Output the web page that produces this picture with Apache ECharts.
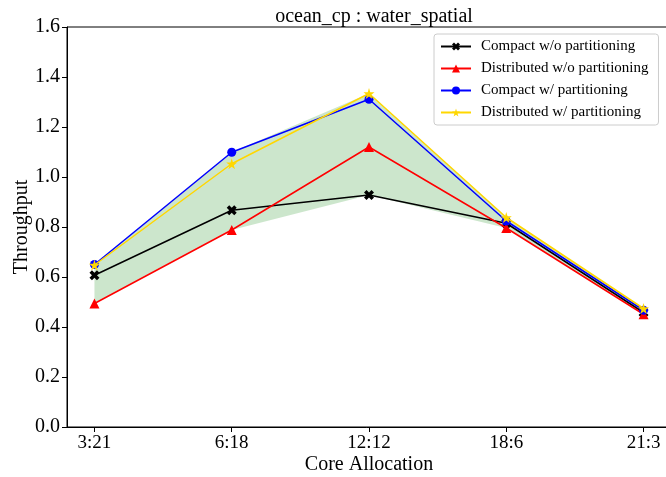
<!DOCTYPE html>
<html>
<head>
<meta charset="utf-8">
<script src="https://cdn.jsdelivr.net/npm/echarts@6/dist/echarts.min.js"></script>
<style>
  html, body { margin: 0; padding: 0; background: #fff; }
  #chart { width: 666px; height: 477px; }
</style>
</head>
<body>
<div id="chart"></div>
<script>
// Core allocation configurations on the x axis
const categories = ['3:21', '6:18', '12:12', '18:6', '21:3'];

// Throughput per configuration
const compactNoPart = [0.607, 0.867, 0.928, 0.815, 0.458];
const distNoPart    = [0.494, 0.788, 1.120, 0.796, 0.451];
const compactPart   = [0.650, 1.099, 1.311, 0.824, 0.467];
const distPart      = [0.648, 1.053, 1.334, 0.838, 0.474];

const yMin = 0, yMax = 1.6, yStep = 0.2;

const seriesDefs = [
  { name: 'Compact w/o partitioning', data: compactNoPart, color: '#000000',
    symbol: 'path://M0,2L2,0L4,2L6,0L8,2L6,4L8,6L6,8L4,6L2,8L0,6L2,4Z', size: 10 },
  { name: 'Distributed w/o partitioning', data: distNoPart, color: '#ff0000',
    symbol: 'triangle', size: 10 },
  { name: 'Compact w/ partitioning', data: compactPart, color: '#0000ff',
    symbol: 'circle', size: 9 },
  { name: 'Distributed w/ partitioning', data: distPart, color: '#ffd700',
    symbol: 'path://M50,0L61,35L98,35L68,57L79,91L50,70L21,91L32,57L2,35L39,35Z', size: 11 }
];

// Envelope between the lowest and highest series at each configuration
const lower = categories.map((_, i) => Math.min(...seriesDefs.map(s => s.data[i])));
const upper = categories.map((_, i) => Math.max(...seriesDefs.map(s => s.data[i])));

const FONT = 'Liberation Serif';
const chart = echarts.init(document.getElementById('chart'), null, { renderer: 'canvas' });

const series = [{
  type: 'custom',
  silent: true,
  z: 1,
  data: [[0, 0]],
  renderItem: (params, api) => {
    const top = upper.map((v, i) => api.coord([i, v]));
    const bottom = lower.map((v, i) => api.coord([i, v])).reverse();
    return {
      type: 'polygon',
      shape: { points: top.concat(bottom) },
      style: { fill: 'rgba(0,128,0,0.2)' }
    };
  }
}].concat(seriesDefs.map((s, k) => ({
  name: s.name,
  type: 'line',
  z: 2 + k,
  data: s.data.map((v, i) => [i, v]),
  symbol: s.symbol,
  symbolSize: s.size,
  showAllSymbol: true,
  lineStyle: { color: s.color, width: 1.5 },
  itemStyle: { color: s.color, borderWidth: 0 },
  emphasis: { disabled: true },
  animation: false
})));

chart.setOption({
  animation: false,
  title: {
    text: 'ocean_cp : water_spatial',
    left: 369,
    textAlign: 'center',
    top: 2,
    textStyle: { fontFamily: FONT, fontSize: 20, fontWeight: 'normal', color: '#000' }
  },
  legend: {
    data: seriesDefs.map(s => s.name),
    orient: 'vertical',
    left: 434,
    top: 34,
    padding: [5, 10, 5, 6],
    itemWidth: 30,
    itemHeight: 10,
    itemGap: 7,
    backgroundColor: 'rgba(255,255,255,0.8)',
    borderColor: '#cccccc',
    borderWidth: 1,
    borderRadius: 3,
    textStyle: { fontFamily: FONT, fontSize: 15, color: '#000', lineHeight: 15, padding: [0, 0, 0, 5] }
  },
  grid: {
    left: 67, top: 27, width: 604, height: 400,
    outerBoundsMode: 'none',
    containLabel: false,
    show: true, borderColor: '#000', borderWidth: 1, backgroundColor: 'transparent'
  },
  xAxis: {
    type: 'value',
    min: -0.2,
    max: 4.2,
    name: 'Core Allocation',
    nameLocation: 'middle',
    nameGap: 28,
    nameMoveOverlap: false,
    nameTextStyle: { fontFamily: FONT, fontSize: 20, color: '#000' },
    axisLine: { show: true, onZero: false, lineStyle: { color: '#000', width: 1 } },
    axisTick: { show: true, inside: false, length: 5, customValues: [0, 1, 2, 3, 4], lineStyle: { color: '#000' } },
    axisLabel: {
      customValues: [0, 1, 2, 3, 4],
      formatter: v => categories[Math.round(v)],
      fontFamily: FONT, fontSize: 19, color: '#000', margin: 7
    },
    splitLine: { show: false }
  },
  yAxis: {
    type: 'value',
    min: yMin,
    max: yMax,
    interval: yStep,
    name: 'Throughput',
    nameLocation: 'middle',
    nameGap: 35,
    nameRotate: 90,
    nameMoveOverlap: false,
    nameTextStyle: { fontFamily: FONT, fontSize: 20, color: '#000' },
    axisLine: { show: true, onZero: false, lineStyle: { color: '#000', width: 1 } },
    axisTick: { show: true, inside: false, length: 5, lineStyle: { color: '#000' } },
    axisLabel: {
      formatter: v => v.toFixed(1),
      fontFamily: FONT, fontSize: 20, color: '#000', margin: 7
    },
    splitLine: { show: false }
  },
  series: series
});
</script>
</body>
</html>
